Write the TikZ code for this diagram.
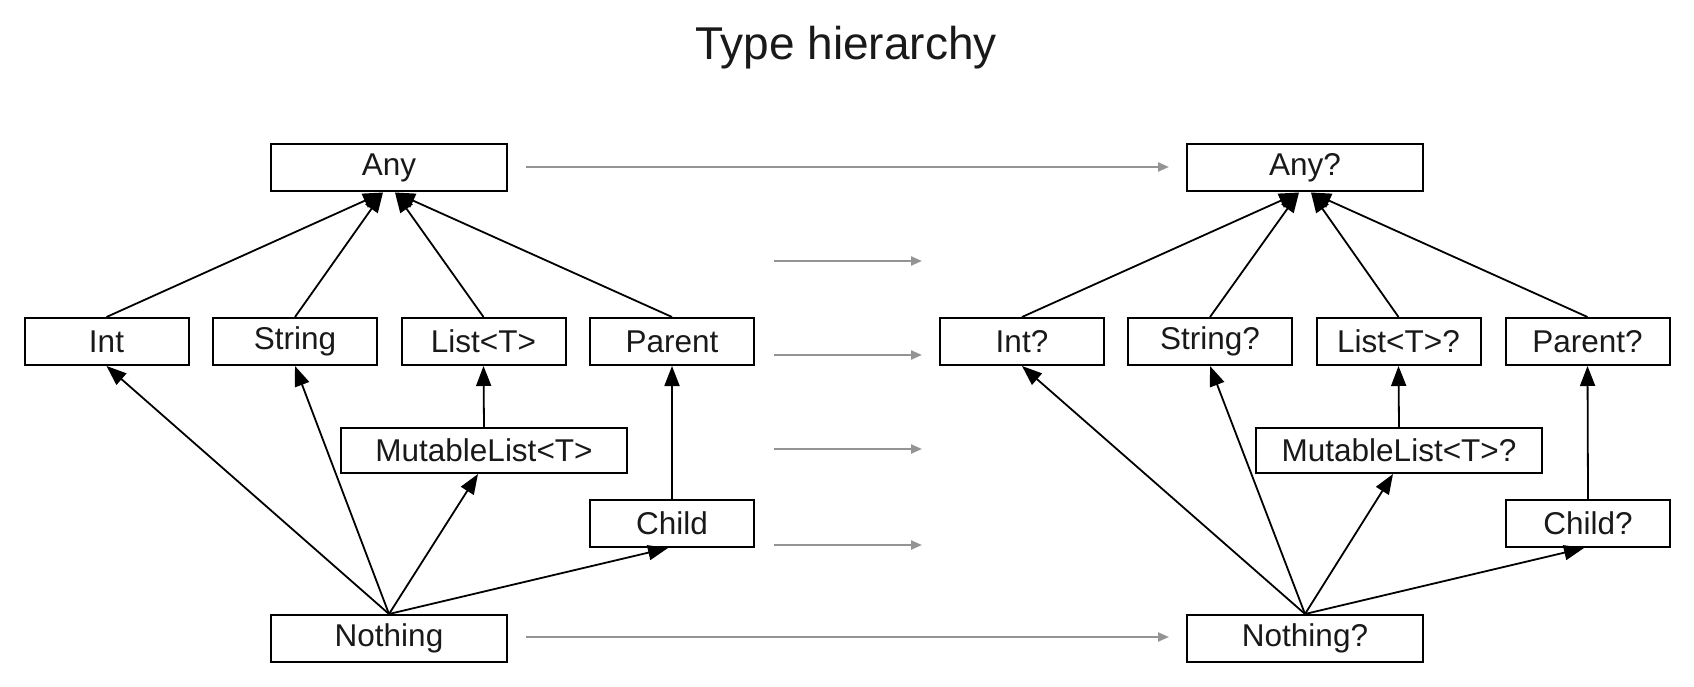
\documentclass[tikz,border=0pt]{standalone}
\usepackage{fontspec}
\setmainfont{Liberation Sans}
\usetikzlibrary{arrows.meta}
\begin{document}
\begin{tikzpicture}[x=1pt,y=-1pt,
  box/.style={draw=black,line width=2pt,fill=white,inner sep=0pt,minimum height=47pt,font=\fontsize{31.5}{31.5}\selectfont,text=black!90},
  sbox/.style={box,minimum width=164pt},
  wbox/.style={box,minimum width=236pt},
  mbox/.style={box,minimum width=286pt,minimum height=45pt},
  rel/.style={line width=1.8pt,-{Triangle[length=20pt,width=15pt]}},
  grel/.style={line width=2.2pt,draw=black!42,-{Triangle[length=11pt,width=9pt,fill=black!42]}}]
\useasboundingbox (0,0) rectangle (1694,687);
\node[font=\fontsize{46}{46}\selectfont,text=black!90,anchor=base] (title) at (846,60) {Type hierarchy};
% left hierarchy
\node[wbox] (any) at (389,168) {Any};
\node[sbox] (int) at (106.5,341.5) {Int};
\node[sbox] (string) at (295,341.5) {String};
\node[sbox] (list) at (483.5,341.5) {List<T>};
\node[sbox] (parent) at (672,341.5) {Parent};
\node[mbox] (mlist) at (484,450.5) {MutableList<T>};
\node[sbox] (child) at (672,523.5) {Child};
\node[wbox] (nothing) at (389,638.5) {Nothing};
% right hierarchy
\node[wbox] (anyq) at (1305,168) {Any?};
\node[sbox] (intq) at (1022,341.5) {Int?};
\node[sbox] (stringq) at (1210,341.5) {String?};
\node[sbox] (listq) at (1398.5,341.5) {List<T>?};
\node[sbox] (parentq) at (1587.5,341.5) {Parent?};
\node[mbox] (mlistq) at (1399,450.5) {MutableList<T>?};
\node[sbox] (childq) at (1588,523.5) {Child?};
\node[wbox] (nothingq) at (1305,638.5) {Nothing?};
% left edges
\draw[rel] (int.north) -- ([xshift=-6pt]any.south);
\draw[rel] (string.north) -- ([xshift=-6pt]any.south);
\draw[rel] (list.north) -- ([xshift=6pt]any.south);
\draw[rel] (parent.north) -- ([xshift=6pt]any.south);
\draw[rel] (mlist.north) -- (list.south);
\draw[rel] (child.north) -- (parent.south);
\draw[rel] (nothing.north) -- (int.south);
\draw[rel] (nothing.north) -- (string.south);
\draw[rel] (nothing.north) -- ([xshift=-6pt]mlist.south);
\draw[rel] (nothing.north) -- ([xshift=-4pt]child.south);
% right edges
\draw[rel] (intq.north) -- ([xshift=-6pt]anyq.south);
\draw[rel] (stringq.north) -- ([xshift=-6pt]anyq.south);
\draw[rel] (listq.north) -- ([xshift=6pt]anyq.south);
\draw[rel] (parentq.north) -- ([xshift=6pt]anyq.south);
\draw[rel] (mlistq.north) -- (listq.south);
\draw[rel] (childq.north) -- (parentq.south);
\draw[rel] (nothingq.north) -- (intq.south);
\draw[rel] (nothingq.north) -- (stringq.south);
\draw[rel] (nothingq.north) -- ([xshift=-6pt]mlistq.south);
\draw[rel] (nothingq.north) -- ([xshift=-4pt]childq.south);
% grey mapping arrows
\coordinate (g1s) at (774,261); \coordinate (g1e) at (922,261);
\coordinate (g2s) at (774,355); \coordinate (g2e) at (922,355);
\coordinate (g3s) at (774,449); \coordinate (g3e) at (922,449);
\coordinate (g4s) at (774,545); \coordinate (g4e) at (922,545);
\draw[grel,shorten <=18pt,shorten >=17pt] ([yshift=1pt]any.east) -- ([yshift=1pt]anyq.west);
\draw[grel] (g1s) -- (g1e);
\draw[grel] (g2s) -- (g2e);
\draw[grel] (g3s) -- (g3e);
\draw[grel] (g4s) -- (g4e);
\draw[grel,shorten <=18pt,shorten >=17pt] ([yshift=1.5pt]nothing.east) -- ([yshift=1.5pt]nothingq.west);
\end{tikzpicture}
\end{document}
